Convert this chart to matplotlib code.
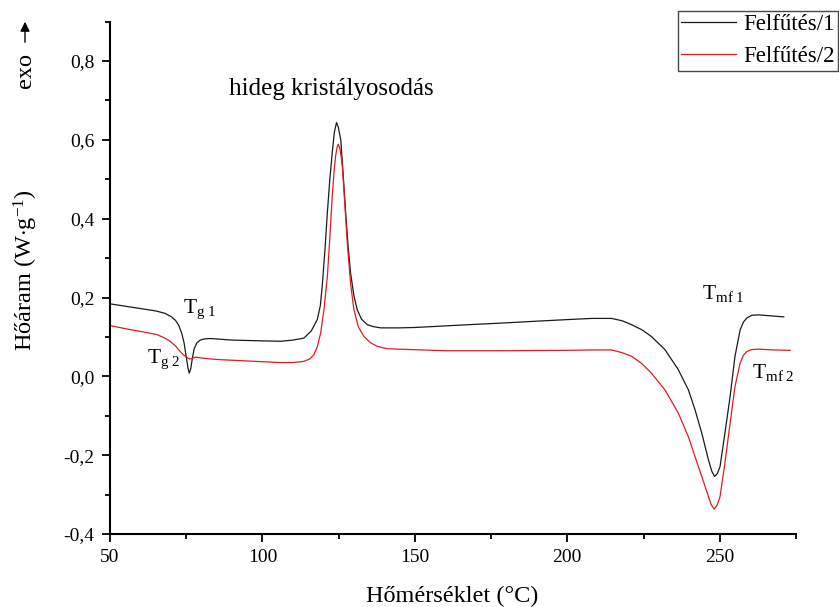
import matplotlib
matplotlib.use('Agg')
from matplotlib import pyplot as plt
from matplotlib.ticker import MultipleLocator, FuncFormatter

plt.rcParams['font.family'] = ['Liberation Serif', 'DejaVu Serif']
plt.rcParams['mathtext.fontset'] = 'custom'
plt.rcParams['mathtext.rm'] = 'Liberation Serif'
plt.rcParams['mathtext.it'] = 'Liberation Serif:italic'

# first heating run
temp_1 = [50, 55, 60, 65, 68, 70, 71.5, 72.5, 73.5, 74.3, 75.0, 75.6, 76.0, 76.5,
          77.0, 77.6, 78.5, 79.6, 81, 83, 90, 100, 106, 110, 113.6, 116, 118, 119,
          119.6, 120.5, 121.3, 122.1, 122.9, 123.6, 124.3, 124.9, 125.7, 126.5,
          127.3, 128.1, 128.9, 130, 131.1, 132.5, 134.4, 136.5, 138.8, 145, 150,
          160, 170, 178, 190, 200, 208, 214.5, 218, 221.1, 224.5, 227.6, 232.0,
          236.4, 239.7, 241.9, 244.1, 246.3, 247.4, 248.3, 249.2, 250.1, 251.7,
          253.4, 255.0, 256.7, 257.8, 258.9, 260.5, 262.7, 266, 271]
flow_1 = [0.184, 0.178, 0.172, 0.166, 0.160, 0.152, 0.142, 0.130, 0.110, 0.085,
          0.050, 0.020, 0.008, 0.020, 0.045, 0.070, 0.085, 0.092, 0.095, 0.096,
          0.092, 0.090, 0.089, 0.092, 0.097, 0.115, 0.144, 0.180, 0.228, 0.320,
          0.416, 0.500, 0.568, 0.620, 0.644, 0.632, 0.600, 0.510, 0.416, 0.330,
          0.263, 0.205, 0.169, 0.145, 0.131, 0.126, 0.123, 0.123, 0.124, 0.128,
          0.132, 0.135, 0.140, 0.144, 0.147, 0.147, 0.141, 0.131, 0.118, 0.101,
          0.068, 0.017, -0.034, -0.085, -0.144, -0.212, -0.241, -0.254, -0.247,
          -0.229, -0.144, -0.051, 0.051, 0.118, 0.138, 0.148, 0.155, 0.156,
          0.154, 0.151]

# second heating run
temp_2 = [50, 55, 60, 65.4, 68, 69.7, 71.5, 73, 74.2, 75.2, 76.1, 76.9, 78, 79.6,
          83, 87, 95, 105.9, 110, 113.6, 115.5, 116.9, 118, 119.1, 120.2, 121.3,
          122.1, 122.9, 123.5, 124, 124.5, 124.9, 125.5, 126.2, 127, 127.9, 129,
          130, 131.5, 133.3, 135.5, 137.7, 141, 148.7, 160, 178.3, 200, 207.9,
          214.5, 218, 221.1, 224.5, 227.6, 232.0, 236.4, 239.7, 241.9, 244.1,
          246.3, 247.2, 248.2, 249.2, 250.1, 251.7, 253.4, 255.0, 256.7, 257.8,
          258.9, 260.5, 262.7, 268, 273.1]
flow_2 = [0.129, 0.121, 0.114, 0.106, 0.097, 0.089, 0.077, 0.063, 0.054, 0.048,
          0.044, 0.045, 0.049, 0.047, 0.044, 0.042, 0.039, 0.035, 0.035, 0.038,
          0.044, 0.055, 0.075, 0.110, 0.170, 0.254, 0.350, 0.457, 0.520, 0.559,
          0.582, 0.589, 0.575, 0.534, 0.440, 0.330, 0.230, 0.169, 0.125, 0.101,
          0.085, 0.076, 0.070, 0.068, 0.065, 0.065, 0.066, 0.067, 0.067, 0.060,
          0.051, 0.032, 0.008, -0.034, -0.093, -0.153, -0.204, -0.254, -0.305,
          -0.326, -0.337, -0.326, -0.305, -0.220, -0.119, -0.026, 0.034, 0.054,
          0.063, 0.068, 0.069, 0.067, 0.066]

labels = ['Felfűtés/1', 'Felfűtés/2']

fig = plt.figure(figsize=(8.39, 6.07), dpi=100)
ax = fig.add_axes([0.1311, 0.1203, 0.8176, 0.844])

ax.plot(temp_1, flow_1, color='#1a1a1a', lw=0.9, label=labels[0])
ax.plot(temp_2, flow_2, color='#e8191e', lw=0.9, label=labels[1])

ax.set_xlim(50, 275)
ax.set_ylim(-0.4, 0.9)
ax.xaxis.set_major_locator(MultipleLocator(50))
ax.xaxis.set_minor_locator(MultipleLocator(25))
ax.yaxis.set_major_locator(MultipleLocator(0.2))
ax.yaxis.set_minor_locator(MultipleLocator(0.1))


def comma(v, pos):
    s = '%.1f' % v
    if s == '-0.0':
        s = '0.0'
    return s.replace('.', ',')


ax.yaxis.set_major_formatter(FuncFormatter(comma))

for side in ['top', 'right']:
    ax.spines[side].set_visible(False)
for side in ['left', 'bottom']:
    ax.spines[side].set_linewidth(1.5)

ax.tick_params(which='major', direction='out', length=6, width=1.3,
               labelsize=14, pad=5)
ax.tick_params(which='minor', direction='out', length=3.5, width=1.3)

# annotations
ax.text(89.1, 0.713, 'hideg kristályosodás', fontsize=18, va='baseline')
ax.text(74.0, 0.162, r'$\mathrm{T_{g\ 1}}$', fontsize=15.5, va='baseline')
ax.text(62.1, 0.035, r'$\mathrm{T_{g\ 2}}$', fontsize=15.5, va='baseline')
ax.text(244.3, 0.195, r'$\mathrm{T_{mf\ 1}}$', fontsize=15.5, va='baseline')
ax.text(260.5, -0.004, r'$\mathrm{T_{mf\ 2}}$', fontsize=15.5, va='baseline')

fig.text(452 / 839, 1 - 596 / 607, 'Hőmérséklet (°C)', fontsize=17.5,
         ha='center', va='center')
fig.text(26 / 839, 1 - 270 / 607, r'Hőáram (W$\cdot$g$^{\mathrm{-1}}$)',
         fontsize=17.5, rotation=90, ha='center', va='center')

# exo direction marker
fig.text(25 / 839, 1 - 70 / 607, 'exo', fontsize=17.5, rotation=90,
         ha='center', va='center')
ax.annotate('', xy=(25, 607 - 19), xytext=(25, 607 - 45),
            xycoords='figure pixels', textcoords='figure pixels',
            arrowprops=dict(arrowstyle='-|>', color='k', lw=1,
                            mutation_scale=14))

leg = fig.legend(loc='upper right', bbox_to_anchor=(838 / 839, 1 - 10.5 / 607),
                 fontsize=16.5, frameon=True, fancybox=False, borderpad=0.15,
                 labelspacing=0.5, handlelength=2.4, handletextpad=0.3,
                 borderaxespad=0)
leg.get_frame().set_edgecolor('#1a1a1a')
leg.get_frame().set_linewidth(1.0)

fig.savefig('out.png', dpi=100)
